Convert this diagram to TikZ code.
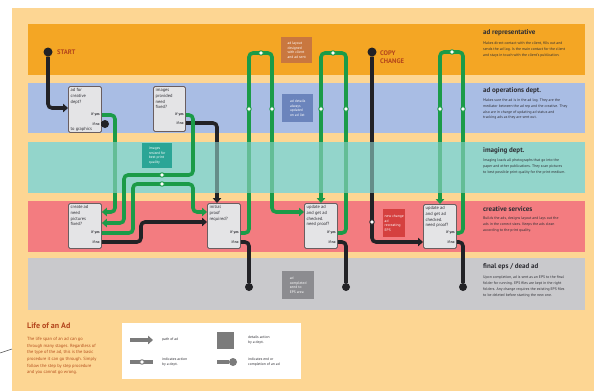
\documentclass[tikz,border=0pt]{standalone}
\usepackage{fontspec}
\setmainfont{PT Sans}
\usetikzlibrary{arrows.meta,calc}
\definecolor{peach}{HTML}{FDD693}
\definecolor{repc}{HTML}{F4A624}
\definecolor{opsc}{HTML}{A9BDE4}
\definecolor{imgc}{HTML}{93D5CB}
\definecolor{crec}{HTML}{F37C80}
\definecolor{finc}{HTML}{C9C9CC}
\definecolor{grn}{HTML}{1B9B48}
\definecolor{blk}{HTML}{222226}
\definecolor{boxfill}{HTML}{E4E4E6}
\definecolor{boxedge}{HTML}{6A5E60}
\definecolor{txtdark}{HTML}{2E2E34}
\definecolor{titlered}{HTML}{B3441B}
\definecolor{parared}{HTML}{B5501E}
\definecolor{lblorange}{HTML}{C9773F}
\definecolor{lblblue}{HTML}{6B84BC}
\definecolor{lblteal}{HTML}{2BA596}
\definecolor{lblred}{HTML}{D5403F}
\definecolor{lblgray}{HTML}{8C8C90}
\definecolor{leggray}{HTML}{7B7B7B}
\begin{document}
\begin{tikzpicture}[x=1pt,y=-1pt,
  qbox/.style={draw=boxedge, fill=boxfill, line width=0.9pt, rounded corners=1.5pt, inner sep=0, anchor=north west},
  qtxt/.style={font=\fontsize{4.5}{5.7}\selectfont, text=txtdark, align=left, anchor=north west, inner sep=0},
  ynl/.style={font=\fontsize{3.7}{4}\selectfont\bfseries, text=txtdark, anchor=east, inner xsep=2pt, inner ysep=0},
  gline/.style={draw=grn, line width=3.6pt, rounded corners=4pt},
  bline/.style={draw=blk, line width=3.6pt, rounded corners=4pt},
  tipa/.style={-{Triangle[length=5pt,width=8.5pt]}},
  enddot/.style={circle, fill=blk, inner sep=0, minimum size=8pt},
  wdot/.style={circle, fill=white, draw=grn, line width=0.9pt, inner sep=0, minimum size=4.5pt},
  lbl/.style={inner sep=1.5pt, anchor=north west, font=\fontsize{3.7}{4.7}\selectfont, text=white, align=left},
  ttl/.style={anchor=north west, inner sep=0, font=\fontsize{7}{8}\selectfont\bfseries, text=txtdark},
  dsc/.style={anchor=north west, inner sep=0, font=\fontsize{3.8}{5.7}\selectfont, text=txtdark, align=left},
  bigred/.style={anchor=west, inner sep=0, font=\fontsize{6.6}{7.4}\selectfont\bfseries, text=titlered, align=left},
  legtxt/.style={anchor=west, inner sep=0, font=\fontsize{3.7}{5.6}\selectfont, text=txtdark, align=left}
]
\useasboundingbox (0,0) rectangle (594,391);
\fill[white] (0,0) rectangle (594,391);
\fill[peach] (12,8) rectangle (594,391);
\coordinate (m1) at (0,353);
\coordinate (m2) at (12,349);
\draw[black!70, line width=0.5pt] (m1) -- (m2);

% lanes
\fill[repc] (28,24) rectangle (585,75);
\fill[opsc] (28,83) rectangle (585,133);
\fill[imgc] (28,142) rectangle (585,193);
\fill[crec] (28,201) rectangle (585,252);
\fill[finc] (28,258) rectangle (585,310);

% department labels
\node[lbl, fill=lblorange, minimum width=31pt, minimum height=26pt] (lr) at (281,37) {ad layout\\designed\\with client\\and ad sent};
\node[lbl, fill=lblblue, minimum width=31pt, minimum height=28pt] (lo) at (282,94) {ad details\\always\\updated\\on ad list};
\node[lbl, fill=lblred, minimum width=22pt, minimum height=28pt] (lc) at (383,209) {new change\\ad\\recreating\\EPS};
\node[lbl, fill=lblgray, minimum width=32pt, minimum height=28pt] (lf) at (282,271) {ad\\completed\\send to\\EPS area};

% question boxes
\node[qbox, minimum width=33pt, minimum height=46pt] (b1) at (68,86) {};
\node[qbox, minimum width=32pt, minimum height=45pt] (b2) at (153,86) {};
\node[qbox, minimum width=33pt, minimum height=45pt] (b3) at (68,203) {};
\node[qbox, minimum width=33pt, minimum height=45pt] (b4) at (207,203) {};
\node[qbox, minimum width=33pt, minimum height=45pt] (b5) at (304,203) {};
\node[qbox, minimum width=33pt, minimum height=44pt] (b6) at (423,204) {};

\node[qtxt] at ($(b1.north west)+(2.5,2.5)$) {ad for\\creative\\dept?};
\node[qtxt] at ($(b1.south west)+(2.5,-5.5)$) {to graphics};
\node[qtxt] at ($(b2.north west)+(2.5,2.5)$) {images\\provided\\need\\fixed?};
\node[qtxt] at ($(b3.north west)+(2.5,2.5)$) {create ad\\need\\pictures\\fixed?};
\node[qtxt] at ($(b4.north west)+(2.5,2.5)$) {initial\\proof\\required?};
\node[qtxt] at ($(b5.north west)+(2.5,2.5)$) {update ad\\and get ad\\checked.\\need proof?};
\node[qtxt] at ($(b6.north west)+(2.5,2.5)$) {update ad\\and get ad\\checked.\\need proof?};

\node[ynl] (b1y) at (b1.east |- 0,115) {if yes};
\node[ynl] (b1n) at (b1.east |- 0,124) {if no};
\node[ynl] (b2y) at (b2.east |- 0,115) {if yes};
\node[ynl] (b2n) at (b2.east |- 0,123) {if no};
\foreach \b in {b3,b4,b5,b6}{
  \node[ynl] (\b y) at (\b.east |- 0,233) {if yes};
  \node[ynl] (\b n) at (\b.east |- 0,242) {if no};
}

% start and copy change
\node[enddot, minimum size=9pt] (st) at (48,52) {};
\node[bigred] (stt) at (57,52) {START};
\node[enddot, minimum size=9pt] (cc) at (372,52) {};
\node[bigred] (cct) at (380,57) {COPY\\CHANGE};

% end dots
\node[enddot] (e1) at (105,124) {};
\node[enddot] (e2) at (249,287) {};
\node[enddot] (e3) at (346,287) {};
\node[enddot] (e4) at (463,287) {};

% connectors that pass behind the imaging lane
\draw[bline, tipa] (st) -- (48,108) -- (b1.west |- 0,108);
\draw[bline] (b1.east |- b1n) -- (e1);
\draw[gline, tipa] (b1.east |- b1y) -- (115,115) -- (115,212) -- (b3.east |- 0,212);
\draw[bline, tipa] (b2.east |- b2n) -- (217,123) -- (b4.north -| 217,0);
\draw[bline, tipa] (b3.east |- b3n) -- (141,242) -- (141,222) -- (b4.west |- 0,222);
\draw[gline, tipa] (b4.east |- b4y) -- (249,233) -- (249,53) -- (272,53) -- (272,212) -- (b5.west |- 0,212);
\draw[bline] (b4.east |- b4n) -- (249,242) -- (e2);
\draw[gline, tipa] (b5.east |- b5y) -- (346,233) -- (346,53) -- (321,53) -- (b5.north -| 321,0);
\draw[bline] (b5.east |- b5n) -- (346,242) -- (e3);
\draw[bline, tipa] (cc) -- (372,242) -- (b6.west |- 0,242);
\draw[gline, tipa] (b6.east |- b6y) -- (463,233) -- (463,52) -- (440,52) -- (b6.north -| 440,0);
\draw[bline] (b6.east |- b6n) -- (463,242) -- (e4);

% imaging lane veil
\fill[imgc, opacity=0.6] (28,142) rectangle (585,193);
\node[lbl, fill=lblteal, minimum width=30pt, minimum height=25pt] (li) at (142,143) {images\\resized for\\best print\\quality};

% connectors on top of the imaging lane
\draw[gline, tipa] (b2.east |- b2y) -- (193,115) -- (193,175) -- (124,175) -- (124,223) -- (b3.east |- 0,223);
\draw[gline, tipa] (b3.east |- b3y) -- (133,233) -- (133,184) -- (193,184) -- (193,212) -- (b4.west |- 0,212);

% action dots
\node[wdot] (w1) at (162,175) {};
\node[wdot] (w2) at (162,184) {};
\node[wdot] (w3) at (261,53) {};
\node[wdot] (w4) at (249,109) {};
\node[wdot] (w5) at (272,109) {};
\node[wdot] (w6) at (333,53) {};
\node[wdot] (w7) at (321,109) {};
\node[wdot] (w8) at (346,109) {};
\node[wdot] (w9) at (452,52) {};
\node[wdot] (w10) at (440,109) {};
\node[wdot] (w11) at (463,109) {};
\node[wdot, draw=blk] (w12) at (372,222) {};

% right column
\node[ttl] (t1) at (483,29) {ad representative};
\node[dsc] at (483,42) {Makes direct contact with the client, fills out and\\sends the ad log. Is the main contact for the client\\and stays in touch with the client's publication.};
\node[ttl] (t2) at (483,87) {ad operations dept.};
\node[dsc] at (483,99) {Makes sure the ad is in the ad log. They are the\\mediator between the ad rep and the creative. They\\also are in charge of updating ad status and\\tracking ads as they are sent out.};
\node[ttl] (t3) at (483,147) {imaging dept.};
\node[dsc] at (483,159) {Imaging loads all photographs that go into the\\paper and other publications. They scan pictures\\to best possible print quality for the print medium.};
\node[ttl] (t4) at (483,206) {creative services};
\node[dsc] at (483,217) {Builds the ads, designs layout and lays out the\\ads in the correct sizes. Keeps the ads clean\\according to the print quality.};
\node[ttl] (t5) at (483,263) {final eps / dead ad};
\node[dsc] at (483,276) {Upon completion, ad is sent as an EPS to the final\\folder for running. EPS files are kept in the right\\folders. Any change requires the existing EPS files\\to be deleted before starting the new one.};

% bottom left
\node[anchor=west, inner sep=0, font=\fontsize{8}{9}\selectfont\bfseries, text=titlered] (lt) at (27,326) {Life of an Ad};
\node[anchor=north west, inner sep=0, font=\fontsize{4.5}{6.7}\selectfont, text=parared, align=left] (lp) at (27,337) {The life span of an ad can go\\through many stages. Regardless of\\the type of the ad, this is the basic\\procedure it can go through. Simply\\follow the step by step procedure\\and you cannot go wrong.};

% legend
\fill[white] (122,323) rectangle (301,379);
\coordinate (la1) at (130,340);
\coordinate (la2) at (153,340);
\draw[draw=leggray, line width=3.6pt, -{Triangle[length=5pt,width=8.5pt]}] (la1) -- (la2);
\node[legtxt] at (162,340) {path of ad};
\node[fill=leggray, minimum size=17pt, inner sep=0] (lsq) at (225.5,340) {};
\node[legtxt] at (248,340) {details action\\by a dept.};
\coordinate (lb1) at (130,362);
\coordinate (lb2) at (153,362);
\draw[draw=leggray, line width=3.6pt] (lb1) -- (lb2);
\node[circle, fill=white, draw=leggray, line width=0.9pt, inner sep=0, minimum size=4.5pt] (ldot) at (142,362) {};
\node[legtxt] at (162,362) {indicates action\\by a dept.};
\node[circle, fill=leggray, inner sep=0, minimum size=8pt] (lend) at (233,362) {};
\coordinate (lc1) at (217,362);
\draw[draw=leggray, line width=3.6pt] (lc1) -- (lend);
\node[legtxt] at (248,362) {indicates end or\\completion of an ad};
\end{tikzpicture}
\end{document}
